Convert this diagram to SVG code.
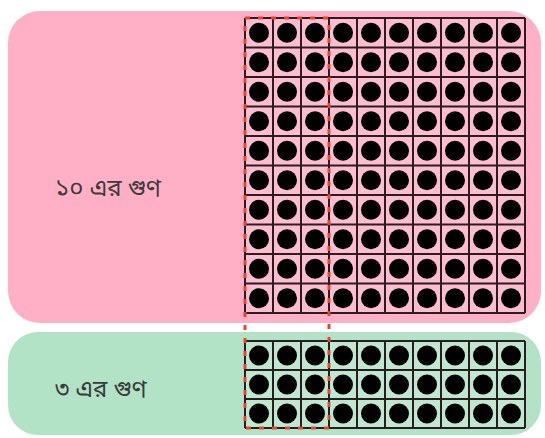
<svg xmlns="http://www.w3.org/2000/svg" width="545" height="438" viewBox="0 0 545 438">
<style>
.lbl{font-family:"Noto Sans Bengali","Noto Sans","Lohit Bengali","Noto Serif Bengali",sans-serif;font-size:24px;fill:#3a3a3a}
.grid{fill:none;stroke:#2b1c20;stroke-width:2}
.cells{fill:#ffffff;fill-opacity:0.18}
.d{fill:#000}
.sel{fill:none;stroke:#e8452c;stroke-width:3;stroke-dasharray:5 8}
</style>
<rect width="545" height="438" fill="#ffffff"/>
<g id="pink-panel">
<rect x="8" y="11" width="533" height="312" rx="32" fill="#ffafc6"/>
<text class="lbl" x="55" y="196">১০ এর গুণ</text>
<rect class="cells" x="245" y="18" width="280" height="295"/>
<path class="grid" d="M245 18V313M273 18V313M301 18V313M329 18V313M357 18V313M385 18V313M413 18V313M441 18V313M469 18V313M497 18V313M525 18V313M245 18H525M245 47.5H525M245 77H525M245 106.5H525M245 136H525M245 165.5H525M245 195H525M245 224.5H525M245 254H525M245 283.5H525M245 313H525"/>
<g class="d">
<circle cx="259" cy="32.75" r="10"/><circle cx="287" cy="32.75" r="10"/><circle cx="315" cy="32.75" r="10"/><circle cx="343" cy="32.75" r="10"/><circle cx="371" cy="32.75" r="10"/><circle cx="399" cy="32.75" r="10"/><circle cx="427" cy="32.75" r="10"/><circle cx="455" cy="32.75" r="10"/><circle cx="483" cy="32.75" r="10"/><circle cx="511" cy="32.75" r="10"/>
<circle cx="259" cy="62.25" r="10"/><circle cx="287" cy="62.25" r="10"/><circle cx="315" cy="62.25" r="10"/><circle cx="343" cy="62.25" r="10"/><circle cx="371" cy="62.25" r="10"/><circle cx="399" cy="62.25" r="10"/><circle cx="427" cy="62.25" r="10"/><circle cx="455" cy="62.25" r="10"/><circle cx="483" cy="62.25" r="10"/><circle cx="511" cy="62.25" r="10"/>
<circle cx="259" cy="91.75" r="10"/><circle cx="287" cy="91.75" r="10"/><circle cx="315" cy="91.75" r="10"/><circle cx="343" cy="91.75" r="10"/><circle cx="371" cy="91.75" r="10"/><circle cx="399" cy="91.75" r="10"/><circle cx="427" cy="91.75" r="10"/><circle cx="455" cy="91.75" r="10"/><circle cx="483" cy="91.75" r="10"/><circle cx="511" cy="91.75" r="10"/>
<circle cx="259" cy="121.25" r="10"/><circle cx="287" cy="121.25" r="10"/><circle cx="315" cy="121.25" r="10"/><circle cx="343" cy="121.25" r="10"/><circle cx="371" cy="121.25" r="10"/><circle cx="399" cy="121.25" r="10"/><circle cx="427" cy="121.25" r="10"/><circle cx="455" cy="121.25" r="10"/><circle cx="483" cy="121.25" r="10"/><circle cx="511" cy="121.25" r="10"/>
<circle cx="259" cy="150.75" r="10"/><circle cx="287" cy="150.75" r="10"/><circle cx="315" cy="150.75" r="10"/><circle cx="343" cy="150.75" r="10"/><circle cx="371" cy="150.75" r="10"/><circle cx="399" cy="150.75" r="10"/><circle cx="427" cy="150.75" r="10"/><circle cx="455" cy="150.75" r="10"/><circle cx="483" cy="150.75" r="10"/><circle cx="511" cy="150.75" r="10"/>
<circle cx="259" cy="180.25" r="10"/><circle cx="287" cy="180.25" r="10"/><circle cx="315" cy="180.25" r="10"/><circle cx="343" cy="180.25" r="10"/><circle cx="371" cy="180.25" r="10"/><circle cx="399" cy="180.25" r="10"/><circle cx="427" cy="180.25" r="10"/><circle cx="455" cy="180.25" r="10"/><circle cx="483" cy="180.25" r="10"/><circle cx="511" cy="180.25" r="10"/>
<circle cx="259" cy="209.75" r="10"/><circle cx="287" cy="209.75" r="10"/><circle cx="315" cy="209.75" r="10"/><circle cx="343" cy="209.75" r="10"/><circle cx="371" cy="209.75" r="10"/><circle cx="399" cy="209.75" r="10"/><circle cx="427" cy="209.75" r="10"/><circle cx="455" cy="209.75" r="10"/><circle cx="483" cy="209.75" r="10"/><circle cx="511" cy="209.75" r="10"/>
<circle cx="259" cy="239.25" r="10"/><circle cx="287" cy="239.25" r="10"/><circle cx="315" cy="239.25" r="10"/><circle cx="343" cy="239.25" r="10"/><circle cx="371" cy="239.25" r="10"/><circle cx="399" cy="239.25" r="10"/><circle cx="427" cy="239.25" r="10"/><circle cx="455" cy="239.25" r="10"/><circle cx="483" cy="239.25" r="10"/><circle cx="511" cy="239.25" r="10"/>
<circle cx="259" cy="268.75" r="10"/><circle cx="287" cy="268.75" r="10"/><circle cx="315" cy="268.75" r="10"/><circle cx="343" cy="268.75" r="10"/><circle cx="371" cy="268.75" r="10"/><circle cx="399" cy="268.75" r="10"/><circle cx="427" cy="268.75" r="10"/><circle cx="455" cy="268.75" r="10"/><circle cx="483" cy="268.75" r="10"/><circle cx="511" cy="268.75" r="10"/>
<circle cx="259" cy="298.25" r="10"/><circle cx="287" cy="298.25" r="10"/><circle cx="315" cy="298.25" r="10"/><circle cx="343" cy="298.25" r="10"/><circle cx="371" cy="298.25" r="10"/><circle cx="399" cy="298.25" r="10"/><circle cx="427" cy="298.25" r="10"/><circle cx="455" cy="298.25" r="10"/><circle cx="483" cy="298.25" r="10"/><circle cx="511" cy="298.25" r="10"/>
</g>
</g>
<g id="green-panel">
<rect x="8" y="332" width="533" height="103" rx="30" fill="#b2e3c7"/>
<text class="lbl" x="55" y="397">৩ এর গুণ</text>
<rect class="cells" x="245" y="341" width="280" height="87"/>
<path class="grid" d="M245 341V428M273 341V428M301 341V428M329 341V428M357 341V428M385 341V428M413 341V428M441 341V428M469 341V428M497 341V428M525 341V428M245 341H525M245 370H525M245 399H525M245 428H525"/>
<g class="d">
<circle cx="259" cy="355.5" r="10"/><circle cx="287" cy="355.5" r="10"/><circle cx="315" cy="355.5" r="10"/><circle cx="343" cy="355.5" r="10"/><circle cx="371" cy="355.5" r="10"/><circle cx="399" cy="355.5" r="10"/><circle cx="427" cy="355.5" r="10"/><circle cx="455" cy="355.5" r="10"/><circle cx="483" cy="355.5" r="10"/><circle cx="511" cy="355.5" r="10"/>
<circle cx="259" cy="384.5" r="10"/><circle cx="287" cy="384.5" r="10"/><circle cx="315" cy="384.5" r="10"/><circle cx="343" cy="384.5" r="10"/><circle cx="371" cy="384.5" r="10"/><circle cx="399" cy="384.5" r="10"/><circle cx="427" cy="384.5" r="10"/><circle cx="455" cy="384.5" r="10"/><circle cx="483" cy="384.5" r="10"/><circle cx="511" cy="384.5" r="10"/>
<circle cx="259" cy="413.5" r="10"/><circle cx="287" cy="413.5" r="10"/><circle cx="315" cy="413.5" r="10"/><circle cx="343" cy="413.5" r="10"/><circle cx="371" cy="413.5" r="10"/><circle cx="399" cy="413.5" r="10"/><circle cx="427" cy="413.5" r="10"/><circle cx="455" cy="413.5" r="10"/><circle cx="483" cy="413.5" r="10"/><circle cx="511" cy="413.5" r="10"/>
</g>
</g>
<g id="selection">
<rect class="sel" x="245" y="18" width="84" height="410"/>
</g>
</svg>
